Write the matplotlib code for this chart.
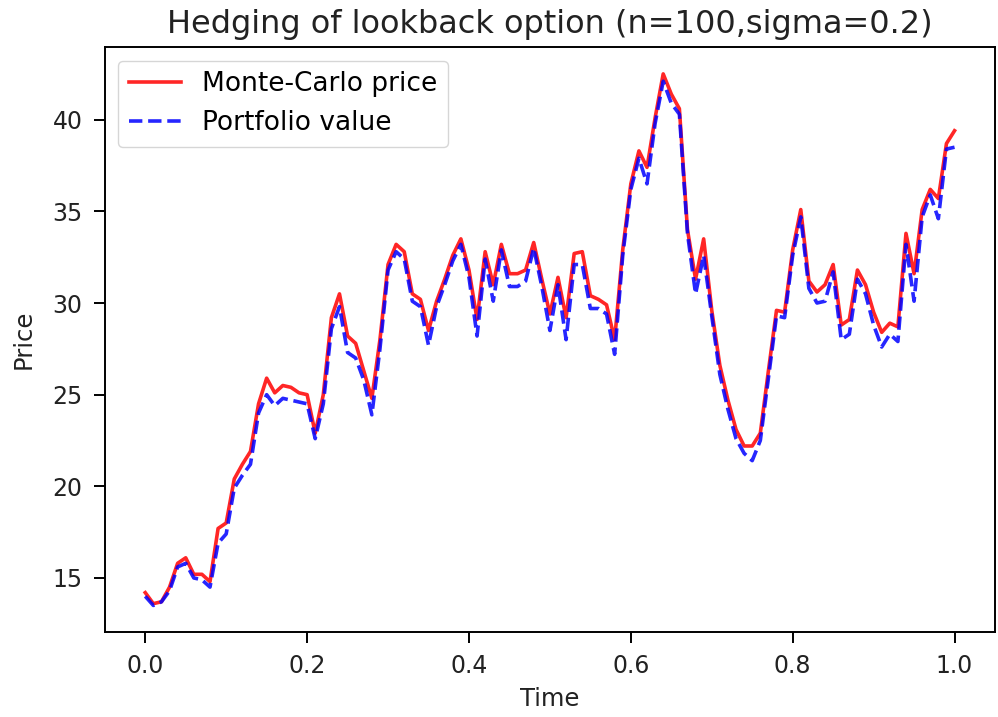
import numpy as np
import matplotlib.pyplot as plt

# time grid (n=100 steps)
time = np.linspace(0, 1, 101)

# Monte-Carlo price of the lookback option
mc_price = [
    14.2, 13.6, 13.7, 14.5, 15.8, 16.1, 15.2, 15.2, 14.8, 17.7,
    18.0, 20.4, 21.2, 21.9, 24.5, 25.9, 25.1, 25.5, 25.4, 25.1,
    25.0, 22.9, 25.0, 29.2, 30.5, 28.2, 27.8, 26.3, 24.8, 28.0,
    32.1, 33.2, 32.8, 30.5, 30.2, 28.5, 30.1, 31.3, 32.6, 33.5,
    31.8, 29.1, 32.8, 31.0, 33.2, 31.6, 31.6, 31.8, 33.3, 31.3,
    29.4, 31.4, 29.2, 32.7, 32.8, 30.4, 30.2, 29.9, 28.0, 32.9,
    36.5, 38.3, 37.4, 40.1, 42.5, 41.4, 40.6, 34.0, 31.3, 33.5,
    29.6, 26.6, 24.7, 23.1, 22.2, 22.2, 22.9, 26.3, 29.6, 29.5,
    32.9, 35.1, 31.2, 30.6, 31.0, 32.1, 28.8, 29.1, 31.8, 31.0,
    29.5, 28.4, 28.9, 28.7, 33.8, 31.6, 35.1, 36.2, 35.7, 38.7,
    39.4,
]

# value of the hedging portfolio
portfolio = [
    14.0, 13.5, 13.7, 14.3, 15.6, 15.8, 15.0, 14.9, 14.5, 16.9,
    17.4, 19.9, 20.6, 21.2, 24.0, 25.0, 24.4, 24.8, 24.7, 24.6,
    24.5, 22.6, 24.5, 28.6, 29.8, 27.3, 27.0, 25.8, 23.9, 27.5,
    31.8, 32.8, 32.4, 30.1, 29.8, 27.7, 29.8, 31.0, 32.3, 33.2,
    31.4, 28.2, 32.4, 30.1, 32.9, 30.9, 30.9, 31.2, 33.0, 30.9,
    28.5, 31.0, 28.0, 32.1, 32.1, 29.7, 29.7, 29.4, 27.2, 32.6,
    36.2, 37.9, 36.5, 39.8, 42.1, 40.9, 40.3, 33.8, 30.5, 32.6,
    29.3, 26.1, 24.2, 22.6, 21.8, 21.4, 22.5, 25.9, 29.3, 29.2,
    32.6, 34.7, 30.8, 30.0, 30.1, 31.7, 28.0, 28.3, 31.3, 30.5,
    28.8, 27.6, 28.3, 27.9, 33.2, 30.1, 34.7, 35.9, 34.6, 38.4,
    38.5,
]

fig = plt.figure(figsize=(9.98, 7.17), dpi=100)
ax = fig.add_axes([0.105, 0.1185, 0.892, 0.8155])

ax.plot(time, mc_price, color='red', lw=2.6, alpha=0.85, label='Monte-Carlo price')
ax.plot(time, portfolio, 'b--', lw=2.6, alpha=0.85, label='Portfolio value')

ax.set_title('Hedging of lookback option (n=100,sigma=0.2)', fontsize=23, pad=10,
             color='#222222')
ax.set_xlabel('Time', fontsize=17.5, labelpad=6, color='#222222')
ax.set_ylabel('Price', fontsize=17.5, labelpad=12, color='#222222')
ax.tick_params(labelsize=17, length=8, width=1.4, pad=8, labelcolor='#222222')
for s in ax.spines.values():
    s.set_linewidth(1.4)
ax.legend(loc='upper left', fontsize=19)

fig.savefig('out.png', dpi=100)
